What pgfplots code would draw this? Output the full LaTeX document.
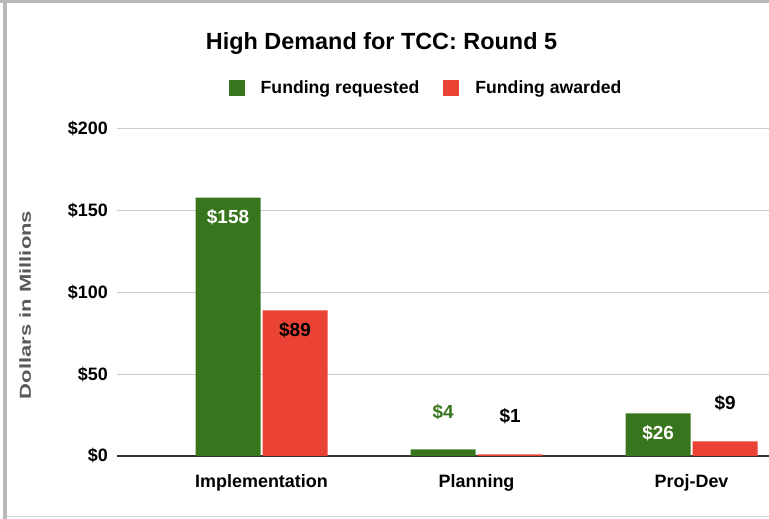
\documentclass[border=0pt]{standalone}
\usepackage{fontspec}
\setmainfont{Liberation Sans}
\newfontfamily\widefont[FakeStretch=1.38]{Liberation Sans}
\usepackage{pgfplots}
\pgfplotsset{compat=1.18}
\definecolor{sgreen}{HTML}{38761D}
\definecolor{sred}{HTML}{EA4335}
\definecolor{gridc}{HTML}{CCCCCC}
\begin{document}
\begin{tikzpicture}
\useasboundingbox (0,0) rectangle (769bp,519bp);
\begin{axis}[
 at={(117bp,63bp)}, anchor=south west,
 scale only axis, width=652bp, height=327bp,
 xmin=-0.672, xmax=2.36, ymin=0, ymax=200,
 ytick={0,50,100,150,200}, yticklabels={\$0,\$50,\$100,\$150,\$200},
 xtick={0,1,2}, xticklabels={Implementation,Planning,Proj-Dev},
 ymajorgrids, grid style={draw=gridc, line width=1bp},
 axis x line*=bottom, axis y line*=left,
 y axis line style={draw=none},
 x axis line style={-, draw=black!80, line width=1.5bp},
 major tick length=0pt,
 tick label style={font=\fontsize{18}{20}\selectfont\bfseries, text=black, inner sep=0pt},
 yticklabel style={xshift=-9bp},
 xticklabel style={yshift=-18bp},
 title={High Demand for TCC: Round 5},
 title style={at={(axis description cs:0.4057,1.242)}, anchor=center, font=\fontsize{23.5}{26}\selectfont\bfseries},
 ylabel={Dollars in Millions},
 ylabel style={at={(axis description cs:-0.141,0.462)}, anchor=center, font=\widefont\fontsize{16}{18}\selectfont\bfseries, text=black!65},
 legend style={at={(axis description cs:0.474,1.125)}, anchor=center, draw=none, fill=none, legend columns=2,
   font=\fontsize{17.7}{20}\selectfont\bfseries,
   /tikz/every even column/.append style={column sep=22bp},
   /tikz/every odd column/.append style={column sep=14bp}},
 clip=false,
]
\addplot[ybar, bar width=65bp, bar shift=-33.5bp, fill=sgreen, draw=none,
  legend image code/.code={\fill[sgreen] (0bp,-8bp) rectangle (16bp,8bp);}]
  coordinates {(0,158) (1,4) (2,26)};
\addlegendentry{Funding requested}
\addplot[ybar, bar width=65bp, bar shift=33.5bp, fill=sred, draw=none,
  legend image code/.code={\fill[sred] (0bp,-8bp) rectangle (16bp,8bp);}]
  coordinates {(0,89) (1,1) (2,9)};
\addlegendentry{Funding awarded}
% labels inside green bars (white)
\addplot[draw=none, forget plot, nodes near coords, point meta=explicit symbolic,
  nodes near coords style={font=\fontsize{19}{21}\selectfont\bfseries, text=white, anchor=center, xshift=-33.5bp, yshift=-20bp}]
  coordinates {(0,158) [\$158] (2,26) [\$26]};
% label inside red bar (black)
\addplot[draw=none, forget plot, nodes near coords, point meta=explicit symbolic,
  nodes near coords style={font=\fontsize{19}{21}\selectfont\bfseries, text=black, anchor=center, xshift=33.5bp, yshift=-20bp}]
  coordinates {(0,89) [\$89]};
% outside label green series
\addplot[draw=none, forget plot, nodes near coords, point meta=explicit symbolic,
  nodes near coords style={font=\fontsize{19}{21}\selectfont\bfseries, text=sgreen, anchor=center, xshift=-33.5bp, yshift=37bp}]
  coordinates {(1,4) [\$4]};
% outside labels red series (black)
\addplot[draw=none, forget plot, nodes near coords, point meta=explicit symbolic,
  nodes near coords style={font=\fontsize{19}{21}\selectfont\bfseries, text=black, anchor=center, xshift=33.5bp, yshift=38bp}]
  coordinates {(1,1) [\$1] (2,9) [\$9]};
\end{axis}
\fill[black!28] (3bp,0) rectangle (7bp,519bp);
\fill[black!28] (0,515.5bp) rectangle (769bp,519bp);
\draw[black!15, line width=1bp] (7bp,2.5bp) -- (769bp,2.5bp);
\end{tikzpicture}
\end{document}
